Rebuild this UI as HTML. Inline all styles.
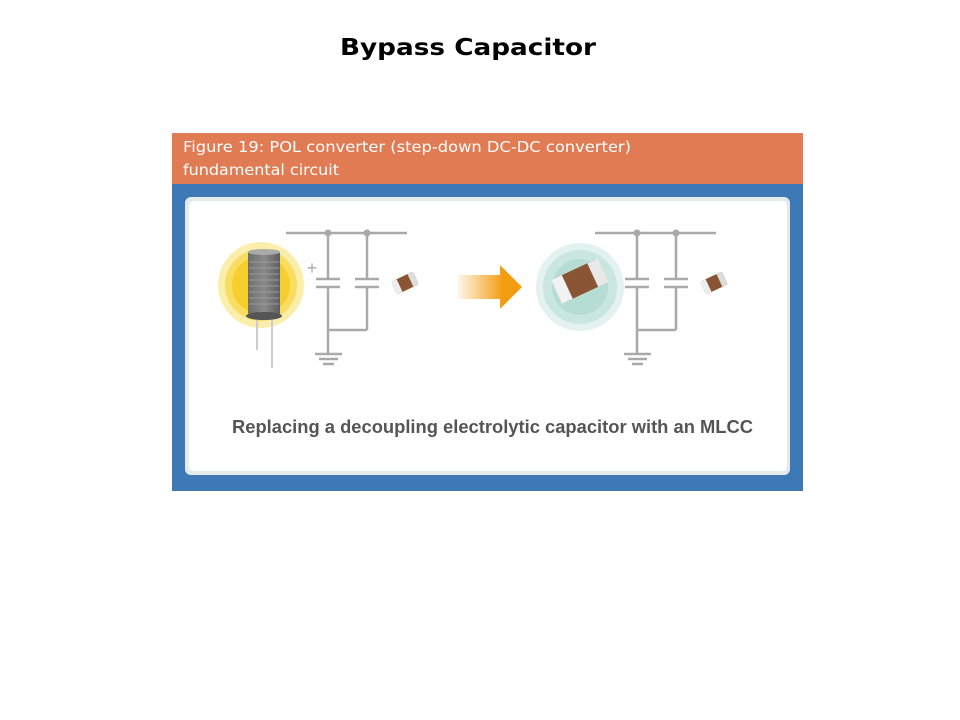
<!DOCTYPE html>
<html><head><meta charset="utf-8"><style>
body{margin:0;background:#fff;width:960px;height:720px;overflow:hidden;font-family:"Liberation Sans",sans-serif}
</style></head><body>
<svg width="960" height="720" xmlns="http://www.w3.org/2000/svg" style="position:absolute;left:0;top:0">
<defs>
<linearGradient id="ar" x1="0" x2="1"><stop offset="0" stop-color="#f6a21e" stop-opacity="0.1"/><stop offset="0.7" stop-color="#f39c12"/></linearGradient>
<linearGradient id="cyl" x1="0" x2="1"><stop offset="0" stop-color="#6d6d6d"/><stop offset="0.5" stop-color="#8a8a8a"/><stop offset="1" stop-color="#5e5e5e"/></linearGradient>
</defs>
<text x="340" y="55" font-size="23" font-weight="bold" fill="#000" font-family="DejaVu Sans, sans-serif" textLength="256" lengthAdjust="spacingAndGlyphs">Bypass Capacitor</text>
<rect x="172" y="133" width="631" height="51" fill="#e07b53"/>
<text x="183" y="152" font-size="15" fill="#fff" font-family="DejaVu Sans, sans-serif" textLength="448" lengthAdjust="spacingAndGlyphs">Figure 19: POL converter (step-down DC-DC converter)</text>
<text x="183" y="175" font-size="15" fill="#fff" font-family="DejaVu Sans, sans-serif" textLength="156" lengthAdjust="spacingAndGlyphs">fundamental circuit</text>
<rect x="172" y="184" width="631" height="307" fill="#3d7ab5"/>
<rect x="185" y="197" width="605" height="278" rx="6" fill="#e3ebee"/>
<rect x="189" y="201" width="598" height="270" rx="5" fill="#fff"/>
<!-- left electrolytic -->
<circle cx="261" cy="285" r="43" fill="#fbeeaa"/>
<circle cx="261" cy="285" r="36" fill="#f9dd60"/>
<circle cx="261" cy="285" r="29" fill="#f6cf2e"/>
<line x1="257" y1="310" x2="257" y2="350" stroke="#ccc" stroke-width="2"/>
<line x1="272" y1="310" x2="272" y2="368" stroke="#ccc" stroke-width="2"/>
<rect x="248" y="250" width="32" height="67" rx="4" fill="url(#cyl)"/>
<ellipse cx="264" cy="252" rx="16" ry="3" fill="#aaa"/>
<g stroke="#9a9a9a" stroke-width="1">
<line x1="249" y1="262" x2="279" y2="262"/><line x1="249" y1="268" x2="279" y2="268"/><line x1="249" y1="274" x2="279" y2="274"/><line x1="249" y1="280" x2="279" y2="280"/><line x1="249" y1="286" x2="279" y2="286"/><line x1="249" y1="292" x2="279" y2="292"/><line x1="249" y1="298" x2="279" y2="298"/><line x1="249" y1="304" x2="279" y2="304"/></g>
<ellipse cx="264" cy="316" rx="18" ry="4" fill="#555"/>
<!-- circuits -->
<g id="c" stroke="#a9a9a9" stroke-width="2.5" fill="none">
<line x1="286" y1="233" x2="407" y2="233"/>
<line x1="328" y1="233" x2="328" y2="279"/><line x1="367" y1="233" x2="367" y2="279"/>
<line x1="316" y1="279" x2="340" y2="279"/><line x1="316" y1="287" x2="340" y2="287"/>
<line x1="355" y1="279" x2="379" y2="279"/><line x1="355" y1="287" x2="379" y2="287"/>
<line x1="328" y1="287" x2="328" y2="354"/><line x1="367" y1="287" x2="367" y2="330"/>
<line x1="328" y1="330" x2="367" y2="330"/>
<line x1="315" y1="354" x2="342" y2="354"/><line x1="319" y1="359" x2="338" y2="359"/><line x1="323" y1="364" x2="334" y2="364"/>
</g>
<circle cx="328" cy="233" r="3.5" fill="#a9a9a9"/><circle cx="367" cy="233" r="3.5" fill="#a9a9a9"/>
<text x="312" y="274" font-size="18" fill="#aaa" text-anchor="middle">+</text>
<use href="#c" x="309"/>
<circle cx="637" cy="233" r="3.5" fill="#a9a9a9"/><circle cx="676" cy="233" r="3.5" fill="#a9a9a9"/>
<!-- small chips -->
<g transform="translate(405,283) rotate(-25)"><rect x="-12" y="-7" width="24" height="14" rx="2" fill="#8a5535"/><rect x="-12" y="-7" width="6" height="14" fill="#eee"/><rect x="6" y="-7" width="6" height="14" fill="#ddd"/></g>
<g transform="translate(714,283) rotate(-25)"><rect x="-12" y="-7" width="24" height="14" rx="2" fill="#8a5535"/><rect x="-12" y="-7" width="6" height="14" fill="#eee"/><rect x="6" y="-7" width="6" height="14" fill="#ddd"/></g>
<!-- arrow -->
<polygon points="458,275 500,275 500,265 522,287 500,309 500,299 458,299" fill="url(#ar)"/>
<!-- right MLCC -->
<circle cx="580" cy="287" r="44" fill="#e3f2ef"/>
<circle cx="580" cy="287" r="37" fill="#c9e6df"/>
<circle cx="580" cy="287" r="28" fill="#b5ddd4"/>
<g transform="translate(580,281) rotate(-25)"><rect x="-26" y="-13" width="52" height="26" rx="3" fill="#8a5535"/><rect x="-26" y="-13" width="12" height="26" fill="#f2f2f2"/><rect x="14" y="-13" width="12" height="26" fill="#e8e8e8"/></g>
<text x="232" y="433" font-size="18" font-weight="bold" fill="#555" textLength="521" lengthAdjust="spacingAndGlyphs">Replacing a decoupling electrolytic capacitor with an MLCC</text>
</svg>
</body></html>
